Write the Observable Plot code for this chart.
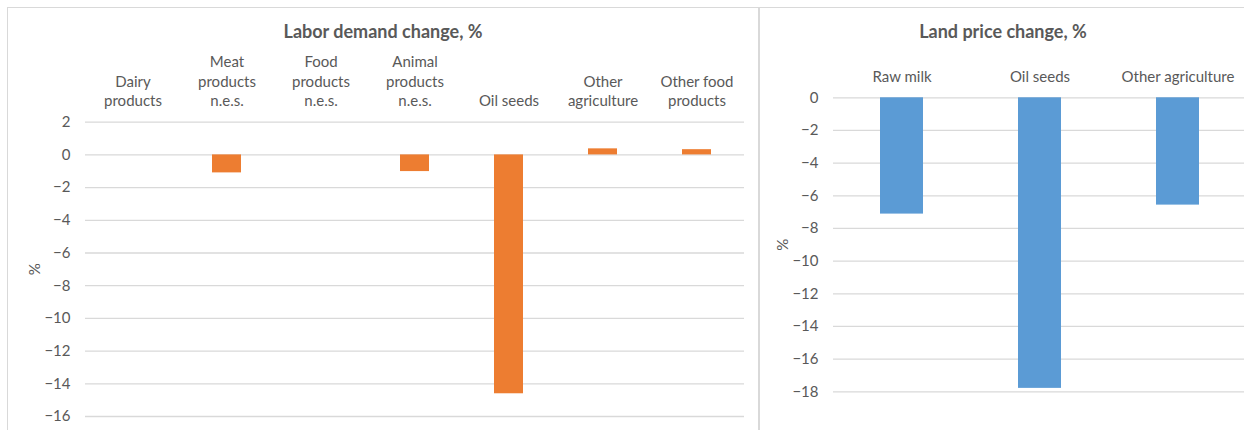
<!DOCTYPE html>
<html>
<head>
<meta charset="utf-8">
<script src="https://cdn.jsdelivr.net/npm/d3@7"></script>
<script src="https://cdn.jsdelivr.net/npm/@observablehq/plot@0.6"></script>
<style>
  html, body { margin: 0; padding: 0; background: #fff; }
  body { width: 1244px; height: 430px; overflow: hidden; position: relative; font-family: Lato, "Open Sans", sans-serif; }
  .panel { position: absolute; top: 7px; height: 440px; border: 1px solid #d9d9d9; box-sizing: border-box; }
  .title { position: absolute; top: 20px; font-weight: bold; font-size: 18px; color: #595959; text-align: center; }
  .chart { position: absolute; top: 0; }
  .chart svg { max-width: none !important; }
</style>
</head>
<body>
<div class="panel" style="left:7px;width:752px;"></div>
<div class="panel" style="left:759px;width:500px;"></div>
<div class="title" style="left:7px;width:752px;">Labor demand change, %</div>
<div class="title" style="left:759px;width:488px;">Land price change, %</div>
<div id="left" class="chart" style="left:0px;width:758px;"></div>
<div id="right" class="chart" style="left:759px;width:494px;"></div>
<script>
// Labor demand change, %
const laborCategories = ["Dairy\nproducts", "Meat\nproducts\nn.e.s.", "Food\nproducts\nn.e.s.", "Animal\nproducts\nn.e.s.", "Oil seeds", "Other\nagriculture", "Other food\nproducts"];
const laborValues = [0, -1.10, 0, -1.02, -14.61, 0.37, 0.32];
const laborTicks = [2, 0, -2, -4, -6, -8, -10, -12, -14, -16];

// Land price change, %
const landCategories = ["Raw milk", "Oil seeds", "Other agriculture"];
const landValues = [-7.12, -17.79, -6.57];
const landTicks = [0, -2, -4, -6, -8, -10, -12, -14, -16, -18];

const textColor = "#595959";
const gridColor = "#d9d9d9";
const fontSize = 15;

function makeChart({categories, values, ticks, domain, color, width, height, marginLeft, marginRight, marginTop, marginBottom}) {
  const data = categories.map((c, i) => ({category: c, value: values[i]}));
  return Plot.plot({
    width, height, marginLeft, marginRight, marginTop, marginBottom,
    style: {fontFamily: "Lato, 'Open Sans', sans-serif", fontSize: fontSize + "px", color: textColor, background: "transparent", overflow: "visible", maxWidth: "none"},
    x: {domain: categories, paddingInner: 0.6865, paddingOuter: 0.343, label: null},
    y: {domain, ticks, label: null},
    marks: [
      Plot.gridY(ticks, {stroke: gridColor, strokeOpacity: 1, strokeWidth: 1.3}),
      Plot.barY(data, {x: "category", y: "value", fill: color}),
      Plot.axisX({anchor: "top", tickSize: 0, tickPadding: 16, lineHeight: 1.3, fontSize: fontSize, fill: textColor}),
      Plot.axisY(ticks, {anchor: "left", tickSize: 0, tickPadding: 15, fontSize: fontSize, fill: textColor, label: "%", labelAnchor: "center", labelOffset: 56, labelArrow: "none"})
    ]
  });
}

document.getElementById("left").appendChild(makeChart({
  categories: laborCategories, values: laborValues, ticks: laborTicks, domain: [-16, 2],
  color: "#ED7D31", width: 758, height: 430, marginLeft: 85, marginRight: 14, marginTop: 121.7, marginBottom: 14
}));

document.getElementById("right").appendChild(makeChart({
  categories: landCategories, values: landValues, ticks: landTicks, domain: [-18, 0],
  color: "#5B9BD5", width: 494, height: 430, marginLeft: 74, marginRight: 6, marginTop: 97.3, marginBottom: 38.7
}));
</script>
</body>
</html>
